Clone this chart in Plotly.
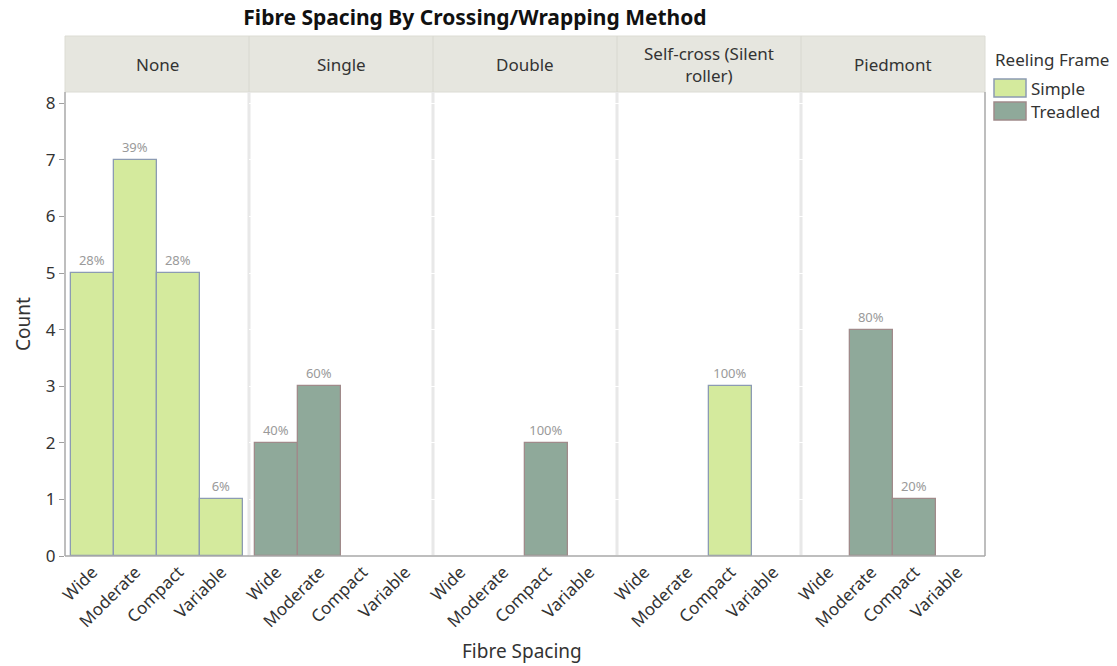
import plotly.graph_objects as go
from plotly.subplots import make_subplots

# Panels (crossing/wrapping method) and fibre spacing categories
methods = ["None", "Single", "Double", "Self-cross (Silent<br>roller)", "Piedmont"]
spacing = ["Wide", "Moderate", "Compact", "Variable"]

# Counts per panel for each reeling frame (None = no bar)
simple_counts = [
    [5, 7, 5, 1],
    [None, None, None, None],
    [None, None, None, None],
    [None, None, 3, None],
    [None, None, None, None],
]
treadled_counts = [
    [None, None, None, None],
    [2, 3, None, None],
    [None, None, 2, None],
    [None, None, None, None],
    [None, 4, 1, None],
]

series = [
    ("Simple", simple_counts, "#d4ea9d", "#8c9bb3"),
    ("Treadled", treadled_counts, "#8fa99a", "#a08a8a"),
]

FONT = "Noto Sans"
W, H = 1117, 666
L, R, T, B = 65, 132, 92, 110
plot_w = W - L - R
plot_h = H - T - B


def px_x(px):
    return (px - L) / plot_w


def px_y(py):
    return (H - B - py) / plot_h


fig = make_subplots(rows=1, cols=5, shared_yaxes=True, horizontal_spacing=0)

for p in range(len(methods)):
    panel_total = sum(
        (v or 0) for _, counts, _, _ in series for v in counts[p]
    )
    for name, counts, fill, edge in series:
        vals = counts[p]
        labels = [
            f"{round(100 * v / panel_total)}%" if v else "" for v in vals
        ]
        fig.add_trace(
            go.Bar(
                x=spacing,
                y=vals,
                name=name,
                legendgroup=name,
                showlegend=False,
                marker=dict(color=fill, line=dict(color=edge, width=1.3)),
                text=labels,
                textposition="outside",
                textfont=dict(size=13, color="#9a9a9a", family=FONT),
                cliponaxis=False,
                hoverinfo="x+y+name",
            ),
            row=1,
            col=p + 1,
        )

fig.update_layout(
    width=W,
    height=H,
    margin=dict(l=L, r=R, t=T, b=B),
    paper_bgcolor="white",
    plot_bgcolor="white",
    barmode="relative",
    bargap=0,
    font=dict(family=FONT, size=16, color="#333333"),
    title=dict(
        text="<b>Fibre Spacing By Crossing/Wrapping Method</b>",
        x=475 / W,
        xref="container",
        xanchor="center",
        y=1 - 18 / H,
        yref="container",
        yanchor="middle",
        font=dict(size=21, color="#111111", family=FONT),
    ),
    showlegend=False,
)

for i in range(1, 6):
    fig.update_xaxes(
        type="category",
        categoryorder="array",
        categoryarray=spacing,
        range=[-0.64, 3.64],
        tickangle=-45,
        tickfont=dict(size=17, color="#333333"),
        ticklabelstandoff=2,
        showgrid=False,
        zeroline=False,
        showline=False,
        ticks="",
        row=1,
        col=i,
    )

fig.update_yaxes(
    range=[0, 8.2],
    tickvals=list(range(9)),
    ticks="outside",
    ticklen=5,
    tickcolor="#a0a0a0",
    tickfont=dict(size=17, color="#333333"),
    showgrid=False,
    zeroline=False,
    showline=False,
    title=dict(text="Count", font=dict(size=19), standoff=10),
    row=1,
    col=1,
)

# X axis title
fig.add_annotation(
    text="Fibre Spacing",
    x=px_x(522), xref="paper", xanchor="center",
    y=px_y(651), yref="paper", yanchor="middle",
    showarrow=False, font=dict(size=19, color="#333333"),
)

strip_top = px_y(36)

shapes = []
# Strip header band
shapes.append(dict(
    type="rect", xref="paper", yref="paper",
    x0=0, x1=1, y0=1, y1=strip_top,
    fillcolor="#e6e6df", line=dict(color="#dcdcd4", width=1), layer="below",
))
# Panel separators
for k in range(1, 5):
    xs = k / 5
    shapes.append(dict(
        type="line", xref="paper", yref="paper",
        x0=xs, x1=xs, y0=0, y1=1,
        line=dict(color="#e8e8e8", width=3), layer="below",
    ))
    shapes.append(dict(
        type="line", xref="paper", yref="paper",
        x0=xs, x1=xs, y0=1, y1=strip_top,
        line=dict(color="#d8d8d0", width=1), layer="above",
    ))
# Plot frame: left, bottom, right
for x0, x1, y0, y1 in [(0, 0, 0, 1), (0, 1, 0, 0), (1, 1, 0, 1)]:
    shapes.append(dict(
        type="line", xref="paper", yref="paper",
        x0=x0, x1=x1, y0=y0, y1=y1,
        line=dict(color="#a8a8a8", width=1.5), layer="above",
    ))

# Legend: title, swatches and labels
fig.add_annotation(
    text="Reeling Frame",
    x=px_x(993), xref="paper", xanchor="left",
    y=px_y(59), yref="paper", yanchor="middle",
    showarrow=False, font=dict(size=17, color="#333333"),
)
for j, (name, _, fill, edge) in enumerate(series):
    top = 79 + j * 23
    shapes.append(dict(
        type="rect", xref="paper", yref="paper",
        x0=px_x(994), x1=px_x(1026), y0=px_y(top), y1=px_y(top + 18),
        fillcolor=fill, line=dict(color=edge, width=1.5), layer="above",
    ))
    fig.add_annotation(
        text=name,
        x=px_x(1029), xref="paper", xanchor="left",
        y=px_y(top + 9), yref="paper", yanchor="middle",
        showarrow=False, font=dict(size=17, color="#333333"),
    )

fig.update_layout(shapes=shapes)

# Strip labels
for k, m in enumerate(methods):
    fig.add_annotation(
        text=m,
        x=(k + 0.5) / 5, xref="paper", xanchor="center",
        y=(1 + strip_top) / 2, yref="paper", yanchor="middle",
        showarrow=False, font=dict(size=17, color="#333333"),
    )

fig.write_html("out.html")
